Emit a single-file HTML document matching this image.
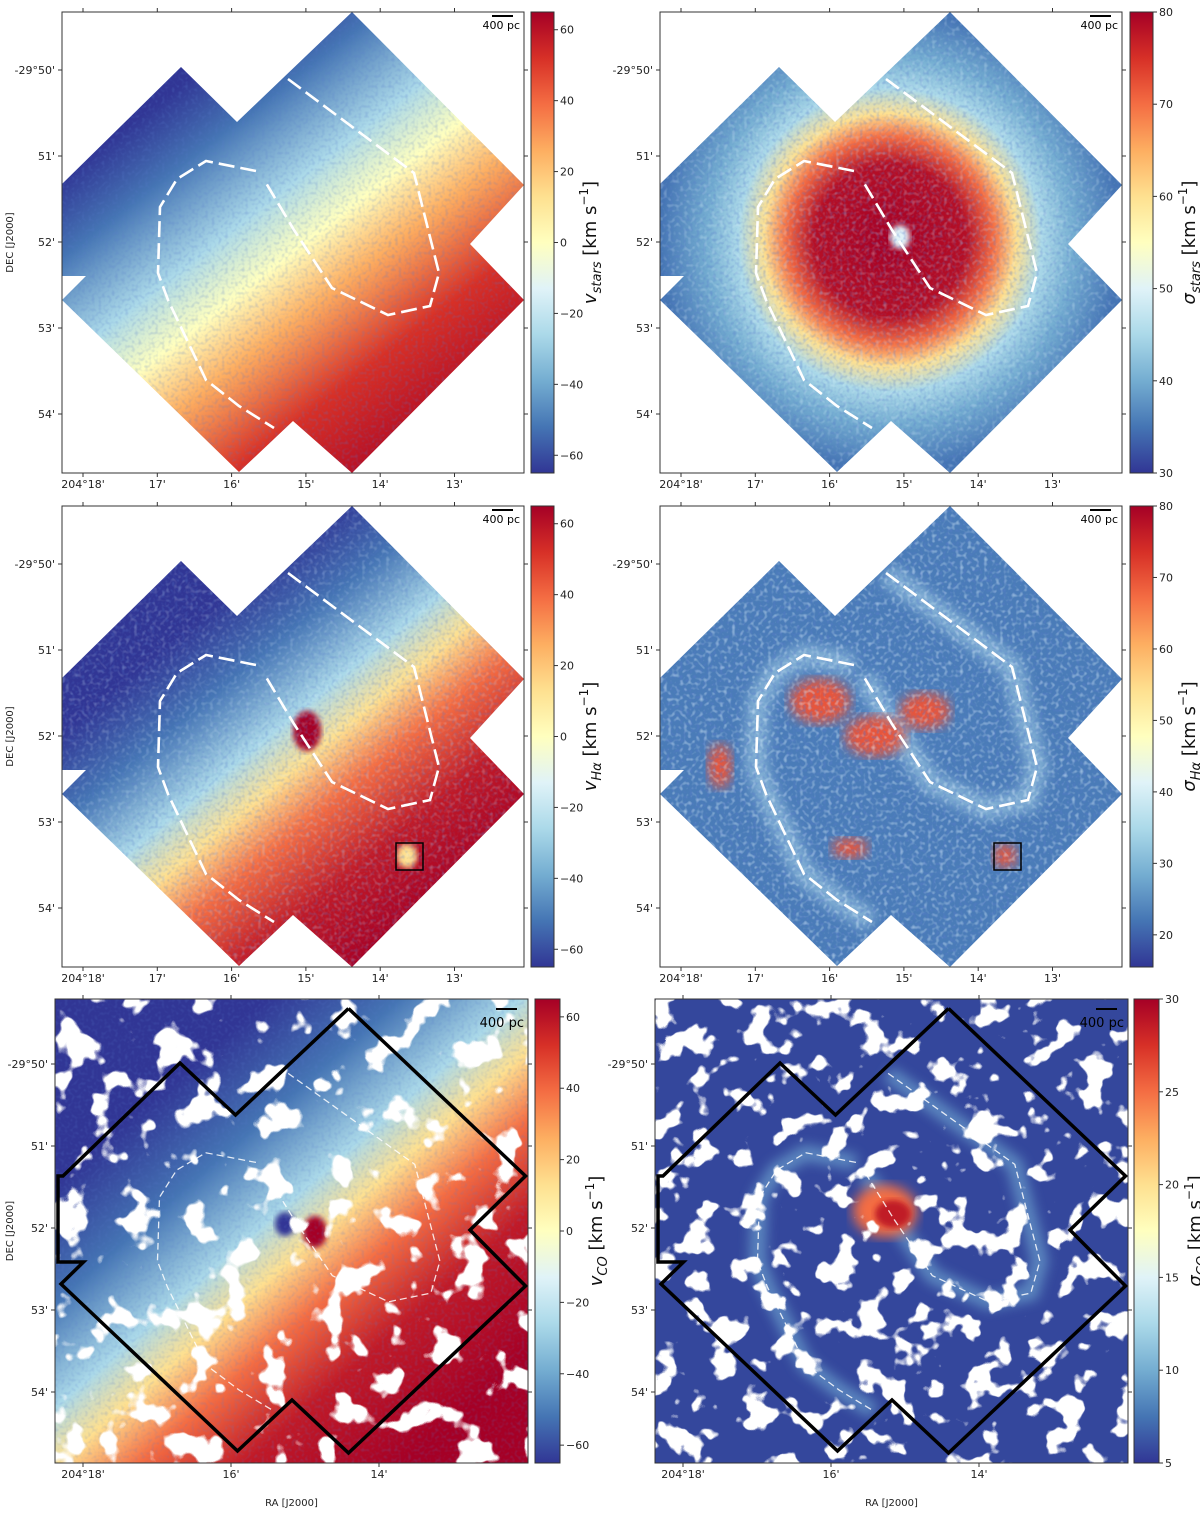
<!DOCTYPE html>
<html><head><meta charset="utf-8">
<style>
html,body{margin:0;padding:0;background:#fff;}
svg{display:block;font-family:"DejaVu Sans","Liberation Sans",sans-serif;}
</style></head>
<body>
<svg id="fig" width="1200" height="1518" viewBox="0 0 1200 1518" xmlns="http://www.w3.org/2000/svg">
<defs>
  <linearGradient id="cbGrad" x1="0" y1="1" x2="0" y2="0">
    <stop offset="0" stop-color="#313695"/><stop offset="0.1" stop-color="#4575b4"/>
    <stop offset="0.2" stop-color="#74add1"/><stop offset="0.3" stop-color="#abd9e9"/>
    <stop offset="0.4" stop-color="#e0f3f8"/><stop offset="0.5" stop-color="#ffffbf"/>
    <stop offset="0.6" stop-color="#fee090"/><stop offset="0.7" stop-color="#fdae61"/>
    <stop offset="0.8" stop-color="#f46d43"/><stop offset="0.9" stop-color="#d73027"/>
    <stop offset="1" stop-color="#a50026"/>
  </linearGradient>
  <linearGradient id="velGrad" gradientUnits="userSpaceOnUse" x1="110" y1="80" x2="390" y2="440">
    <stop offset="0" stop-color="#313695"/><stop offset="0.14" stop-color="#4575b4"/>
    <stop offset="0.32" stop-color="#abd9e9"/><stop offset="0.44" stop-color="#ffffbf"/>
    <stop offset="0.56" stop-color="#fdae61"/><stop offset="0.74" stop-color="#d73027"/>
    <stop offset="1" stop-color="#a50026"/>
  </linearGradient>
  <linearGradient id="velGradHa" gradientUnits="userSpaceOnUse" x1="140" y1="110" x2="380" y2="400">
    <stop offset="0" stop-color="#313695"/><stop offset="0.18" stop-color="#4575b4"/>
    <stop offset="0.36" stop-color="#abd9e9"/><stop offset="0.47" stop-color="#fee090"/>
    <stop offset="0.6" stop-color="#f46d43"/><stop offset="0.78" stop-color="#c01a28"/>
    <stop offset="1" stop-color="#a50026"/>
  </linearGradient>
  <linearGradient id="velGradCO" gradientUnits="userSpaceOnUse" x1="110" y1="90" x2="400" y2="420">
    <stop offset="0" stop-color="#313695"/><stop offset="0.2" stop-color="#4575b4"/>
    <stop offset="0.38" stop-color="#abd9e9"/><stop offset="0.48" stop-color="#fee090"/>
    <stop offset="0.6" stop-color="#f46d43"/><stop offset="0.76" stop-color="#c01a28"/>
    <stop offset="1" stop-color="#a50026"/>
  </linearGradient>
  <radialGradient id="sigGrad" gradientUnits="userSpaceOnUse" cx="230" cy="228" r="230">
    <stop offset="0" stop-color="#a50026"/><stop offset="0.33" stop-color="#b50f26"/>
    <stop offset="0.45" stop-color="#f46d43"/><stop offset="0.55" stop-color="#fee090"/>
    <stop offset="0.66" stop-color="#abd9e9"/><stop offset="0.8" stop-color="#74add1"/>
    <stop offset="1" stop-color="#4575b4"/>
  </radialGradient>
  <filter id="speck" filterUnits="userSpaceOnUse" x="0" y="0" width="1200" height="1518">
    <feTurbulence type="fractalNoise" baseFrequency="0.3" numOctaves="1" seed="4"/>
    <feColorMatrix values="0 0 0 0 0.1  0 0 0 0 0.2  0 0 0 0 0.6  3 0 0 0 -1.4"/>
  </filter>
  <filter id="speckW" filterUnits="userSpaceOnUse" x="0" y="0" width="1200" height="1518">
    <feTurbulence type="fractalNoise" baseFrequency="0.25" numOctaves="1" seed="9"/>
    <feColorMatrix values="0 0 0 0 0.75  0 0 0 0 0.9  0 0 0 0 1  3 0 0 0 -1.5"/>
  </filter>
  <filter id="holes" filterUnits="userSpaceOnUse" x="0" y="0" width="1200" height="1518">
    <feTurbulence type="fractalNoise" baseFrequency="0.03" numOctaves="3" seed="3"/>
    <feColorMatrix values="0 0 0 0 1  0 0 0 0 1  0 0 0 0 1  16 0 0 0 -9.3"/>
  </filter>
  <filter id="holes2" filterUnits="userSpaceOnUse" x="0" y="0" width="1200" height="1518">
    <feTurbulence type="fractalNoise" baseFrequency="0.035" numOctaves="3" seed="11"/>
    <feColorMatrix values="0 0 0 0 1  0 0 0 0 1  0 0 0 0 1  16 0 0 0 -9.0"/>
  </filter>
  <filter id="blur6"><feGaussianBlur stdDeviation="6"/></filter>
  <filter id="blur3"><feGaussianBlur stdDeviation="3"/></filter>
</defs>
</svg>
<script>
// ---- data arrays ----
const velTicks = [-60, -40, -20, 0, 20, 40, 60];
const sigStarsTicks = [30, 40, 50, 60, 70, 80];
const sigHaTicks = [20, 30, 40, 50, 60, 70, 80];
const sigCOTicks = [5, 10, 15, 20, 25, 30];
const raTicksTop = [18, 17, 16, 15, 14, 13];
const raLabelsTop = ["204°18'", "17'", "16'", "15'", "14'", "13'"];
const raTicksCO = [18, 16, 14];
const raLabelsCO = ["204°18'", "16'", "14'"];
const decTicksTop = [50, 51, 52, 53, 54];
const decLabelsTop = ["-29°50'", "51'", "52'", "53'", "54'"];
const decTicksCO = [50, 51, 52, 53, 54];
const decLabelsCO = ["-29°50'", "51'", "52'", "53'", "54'"];
const velRange = [-65, 65];
const sigStarsRange = [30, 80];
const sigHaRange = [15.5, 80];
const sigCORange = [5, 30];

const NS = "http://www.w3.org/2000/svg";
const svg = document.getElementById('fig');
const defs = svg.querySelector('defs');
function mk(tag, attrs, parent) {
  const e = document.createElementNS(NS, tag);
  for (const k in attrs) e.setAttribute(k, attrs[k]);
  if (parent) parent.appendChild(e);
  return e;
}
const shapeTop = "290,0 462,173 408,232 462,288 290,461 231,409 177,460 0,288 24,264 0,264 0,172 119,55 175,110";
const shapeCO = "293.5,9.5 470.5,177 415,231 470.5,287 293.5,454 237,401 182.5,452 6,285 28.5,263 3,263 3,177 8,177 125,64 180.5,116 293.5,9.5";
const arcOuter = "226,67 352,161 377,261 368,294 326,303 270,276 232,218 204,171";
const arcInner = "194,159 144,149 115,167 98,195 96,261 106,288 144,368 177,394 212,416";

function addPanel(p) {
  const g = mk('g', {transform: `translate(${p.x},${p.y})`}, svg);
  
  
  const cid = 'clip-' + p.name;
  const cp = mk('clipPath', {id: cid}, defs);
  if (p.full) mk('rect', {x: 0, y: 0, width: p.w, height: p.h}, cp);
  else mk('polygon', {points: shapeTop}, cp);
  const map = mk('g', {'clip-path': `url(#${cid})`}, g);
  
  
  p.fill(map, p);
  const arcs = mk('g', {transform: p.full ? 'translate(6,9.5) scale(1.005,0.968)' : ''}, g);
  
  
  [arcOuter, arcInner].forEach(pts => {
    mk('polyline', {points: pts, fill: 'none', stroke: '#fff', 'stroke-width': p.full ? 1.3 : 2.6,
      'stroke-dasharray': p.full ? '7,4' : '16,6', opacity: p.full ? 0.85 : 1}, arcs);
  });
  if (p.full) {
    const fp = mk('polyline', {points: shapeCO, fill: 'none', stroke: '#000', 'stroke-width': 3.5, 'stroke-linejoin': 'miter'}, g);
    
    
  }
  if (p.square) {
    const sq = mk('rect', {x: 334, y: 337, width: 27, height: 27, fill: 'none', stroke: '#000', 'stroke-width': 1.5}, g);
    
    
  }
  const fr = mk('rect', {x: 0, y: 0, width: p.w, height: p.h, fill: 'none', stroke: '#333', 'stroke-width': 1}, g);
  
  
  const sb = mk('g', {}, g);
  
  
  const big = p.full;
  mk('line', {x1: p.w - 32, x2: p.w - 11, y1: big ? 10 : 4, y2: big ? 10 : 4, stroke: '#000', 'stroke-width': 2}, sb);
  const st = mk('text', {x: p.w - 4, y: big ? 28 : 17, 'text-anchor': 'end', 'font-size': big ? 13 : 11, fill: '#000'}, sb);
  st.textContent = '400 pc';
  const raT = p.full ? raTicksCO : raTicksTop, raL = p.full ? raLabelsCO : raLabelsTop;
  const dT = p.full ? decTicksCO : decTicksTop, dL = p.full ? decLabelsCO : decLabelsTop;
  const ra0 = p.full ? 28 : 21, raS = p.full ? 74 : 74.3;
  const d0 = p.full ? 65 : 58, dS = p.full ? 82 : 86;
  const raX = v => ra0 + (18 - v) * raS;
  const decY = v => d0 + (v - 50) * dS;
  raT.forEach((v, i) => {
    const x = raX(v);
    mk('line', {x1: x, x2: x, y1: p.h, y2: p.h + 4, stroke: '#333'}, g);
    mk('line', {x1: x, x2: x, y1: 0, y2: -4, stroke: '#333'}, g);
    const t = mk('text', {x: x, y: p.h + 15, 'text-anchor': 'middle', 'font-size': 11, fill: '#222'}, g);
    
    
    t.textContent = raL[i];
  });
  dT.forEach((v, i) => {
    const y = decY(v);
    mk('line', {x1: 0, x2: -4, y1: y, y2: y, stroke: '#333'}, g);
    mk('line', {x1: p.w, x2: p.w + 4, y1: y, y2: y, stroke: '#333'}, g);
    const t = mk('text', {x: -7, y: y + 4, 'text-anchor': 'end', 'font-size': 11, fill: '#222'}, g);
    
    
    t.textContent = dL[i];
  });
  if (p.showDec) {
    const t = mk('text', {transform: `translate(${p.full ? -42 : -49},${p.h / 2}) rotate(-90)`, 'text-anchor': 'middle', 'font-size': 10, fill: '#222'}, g);
    
    
    t.textContent = 'DEC [J2000]';
  }
  if (p.full) {
    const t = mk('text', {x: p.w / 2, y: p.h + 43, 'text-anchor': 'middle', 'font-size': 10, fill: '#222'}, g);
    
    
    t.textContent = 'RA [J2000]';
  }
  const cb = mk('g', {transform: `translate(${p.cbx - p.x},0)`}, g);
  
  
  mk('rect', {x: 0, y: 0, width: p.cbw, height: p.h, fill: 'url(#cbGrad)', stroke: '#333', 'stroke-width': 1}, cb);
  const [lo, hi] = p.range;
  const cy = v => p.h - (v - lo) / (hi - lo) * p.h;
  p.ticks.forEach(v => {
    const y = cy(v);
    mk('line', {x1: p.cbw, x2: p.cbw + 4, y1: y, y2: y, stroke: '#333'}, cb);
    const t = mk('text', {x: p.cbw + 6, y: y + 4, 'font-size': 11, fill: '#222'}, cb);
    
    
    t.textContent = v < 0 ? '\u2212' + Math.abs(v) : String(v);
  });
  const lab = mk('text', {transform: `translate(${p.cbw + 42},${p.h / 2}) rotate(-90)`, 'text-anchor': 'middle', 'font-size': 18, fill: '#111'}, cb);
  
  
  const s1 = mk('tspan', {'font-style': 'italic'}, lab); s1.textContent = p.sym;
  const s2 = mk('tspan', {'font-size': 13, 'font-style': 'italic', dy: 5}, lab); s2.textContent = p.sub;
  const s3 = mk('tspan', {dy: -5}, lab); s3.textContent = ' [km s';
  const s4 = mk('tspan', {'font-size': 12, dy: -8}, lab); s4.textContent = '\u22121';
  const s5 = mk('tspan', {dy: 8}, lab); s5.textContent = ']';
}

function speckle(g, p, f, op) {
  mk('rect', {x: 0, y: 0, width: p.w, height: p.h, filter: `url(#${f})`, opacity: op}, g);
}
function fillVel(g, p) {
  mk('rect', {x: 0, y: 0, width: p.w, height: p.h, fill: 'url(#velGrad)'}, g);
  speckle(g, p, 'speck', 0.25);
}
function fillVelHa(g, p) {
  mk('rect', {x: 0, y: 0, width: p.w, height: p.h, fill: 'url(#velGradHa)'}, g);
  mk('ellipse', {cx: 245, cy: 225, rx: 14, ry: 20, fill: '#a50026', filter: 'url(#blur3)'}, g);
  mk('ellipse', {cx: 345, cy: 350, rx: 10, ry: 12, fill: '#fee090', filter: 'url(#blur3)'}, g);
  speckle(g, p, 'speck', 0.3);
  speckle(g, p, 'speckW', 0.25);
}
function fillSigStars(g, p) {
  mk('rect', {x: 0, y: 0, width: p.w, height: p.h, fill: 'url(#sigGrad)'}, g);
  mk('ellipse', {cx: 240, cy: 225, rx: 10, ry: 12, fill: '#e0f3f8', filter: 'url(#blur3)'}, g);
  speckle(g, p, 'speck', 0.35);
  speckle(g, p, 'speckW', 0.3);
}
function fillSigHa(g, p) {
  mk('rect', {x: 0, y: 0, width: p.w, height: p.h, fill: '#4a7cb8'}, g);
  const arms = mk('g', {filter: 'url(#blur6)', opacity: 0.7}, g);
  [arcOuter, arcInner].forEach(pts => mk('polyline', {points: pts, fill: 'none', stroke: '#9cc8e2', 'stroke-width': 22}, arms));
  const blobs = [[160, 195, 30, 22], [265, 205, 25, 18], [215, 230, 30, 20], [190, 342, 18, 10], [345, 350, 12, 12], [60, 260, 12, 22]];
  blobs.forEach(b => mk('ellipse', {cx: b[0], cy: b[1], rx: b[2], ry: b[3], fill: '#e8553a', filter: 'url(#blur6)'}, g));
  speckle(g, p, 'speck', 0.45);
  speckle(g, p, 'speckW', 0.5);
}
function fillVelCO(g, p) {
  mk('rect', {x: 0, y: 0, width: p.w, height: p.h, fill: 'url(#velGradCO)'}, g);
  mk('ellipse', {cx: 260, cy: 233, rx: 12, ry: 16, fill: '#a50026', filter: 'url(#blur3)'}, g);
  mk('ellipse', {cx: 230, cy: 225, rx: 10, ry: 12, fill: '#313695', filter: 'url(#blur3)'}, g);
  speckle(g, p, 'speck', 0.2);
  mk('rect', {x: 0, y: 0, width: p.w, height: p.h, filter: 'url(#holes)'}, g);
}
function fillSigCO(g, p) {
  mk('rect', {x: 0, y: 0, width: p.w, height: p.h, fill: '#34479c'}, g);
  const arms = mk('g', {filter: 'url(#blur6)', opacity: 0.75, transform: 'translate(6,9.5) scale(1.005,0.968)'}, g);
  [arcOuter, arcInner].forEach(pts => mk('polyline', {points: pts, fill: 'none', stroke: '#6a9fcd', 'stroke-width': 16}, arms));
  mk('ellipse', {cx: 230, cy: 212, rx: 32, ry: 26, fill: '#f46d43', filter: 'url(#blur6)'}, g);
  mk('ellipse', {cx: 238, cy: 215, rx: 18, ry: 14, fill: '#c01a28', filter: 'url(#blur3)'}, g);
  mk('rect', {x: 0, y: 0, width: p.w, height: p.h, filter: 'url(#holes2)'}, g);
}

const panels = [
  {name: 'v-stars', x: 62, y: 12, w: 462, h: 461, cbx: 531, cbw: 23, range: velRange, ticks: velTicks, sym: 'v', sub: 'stars', fill: fillVel, showDec: true},
  {name: 'sigma-stars', x: 660, y: 12, w: 462, h: 461, cbx: 1130, cbw: 23, range: sigStarsRange, ticks: sigStarsTicks, sym: '\u03c3', sub: 'stars', fill: fillSigStars},
  {name: 'v-halpha', x: 62, y: 506, w: 462, h: 461, cbx: 531, cbw: 23, range: velRange, ticks: velTicks, sym: 'v', sub: 'H\u03b1', fill: fillVelHa, showDec: true, square: true},
  {name: 'sigma-halpha', x: 660, y: 506, w: 462, h: 461, cbx: 1130, cbw: 23, range: sigHaRange, ticks: sigHaTicks, sym: '\u03c3', sub: 'H\u03b1', fill: fillSigHa, square: true},
  {name: 'v-co', x: 55, y: 999, w: 473, h: 464, cbx: 535, cbw: 25, range: velRange, ticks: velTicks, sym: 'v', sub: 'CO', fill: fillVelCO, showDec: true, full: true},
  {name: 'sigma-co', x: 655, y: 999, w: 473, h: 464, cbx: 1134, cbw: 25, range: sigCORange, ticks: sigCOTicks, sym: '\u03c3', sub: 'CO', fill: fillSigCO, full: true}
];
panels.forEach(addPanel);
</script>
</body></html>
